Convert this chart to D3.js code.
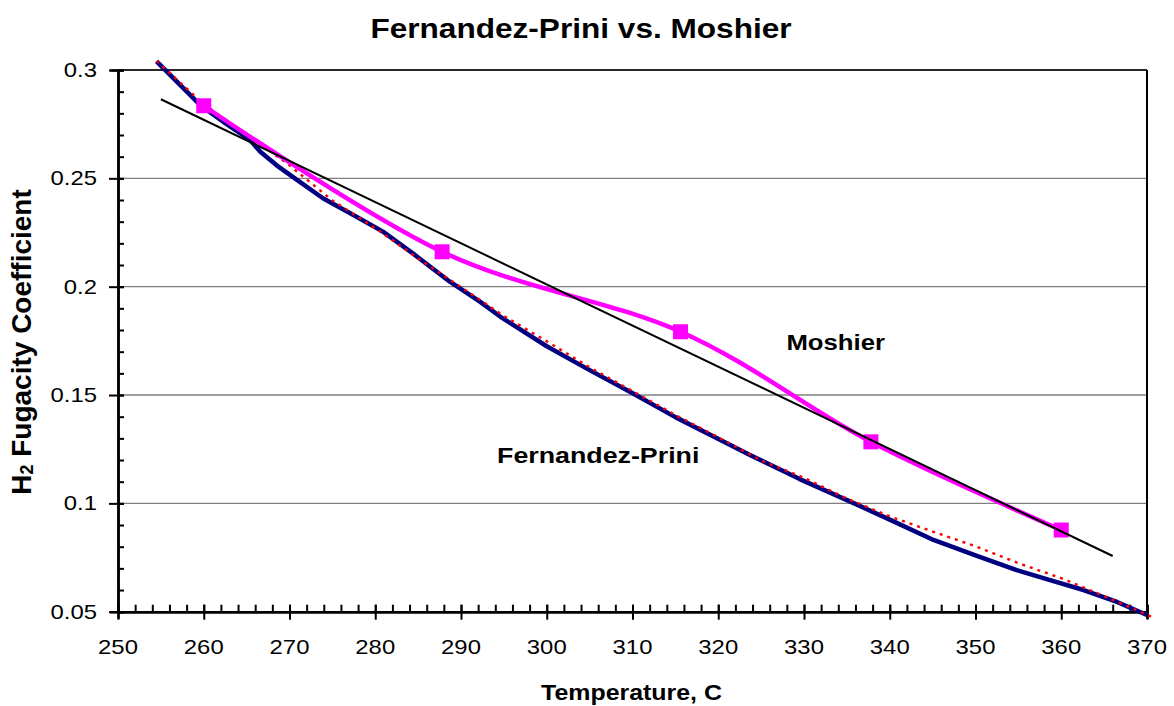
<!DOCTYPE html>
<html><head><meta charset="utf-8">
<script src="https://cdn.jsdelivr.net/npm/d3@7"></script>
<style>
body{margin:0;background:#fff}
svg{display:block}
text{font-family:"Liberation Sans",Arial,Helvetica,sans-serif;fill:#000}
</style>
</head><body>
<svg id="chart" width="1174" height="706"></svg>
<script>
// ---- data ----
const titleText = "Fernandez-Prini vs. Moshier";
const xLabel = "Temperature, C";
const xTickValues = [250, 260, 270, 280, 290, 300, 310, 320, 330, 340, 350, 360, 370];
const yTickValues = [0.05, 0.1, 0.15, 0.2, 0.25, 0.3];
const yTickLabels = ["0.05", "0.1", "0.15", "0.2", "0.25", "0.3"];

// Moshier points (500,550,600,640,680 F)
const moshierT = [260, 287.8, 315.6, 337.8, 360];
const moshierV = [0.2835, 0.2161, 0.1792, 0.1284, 0.0877];

// Linear trend of Moshier
const trendT = [255, 366];
const trendV = [0.2865, 0.0757];

// Fernandez-Prini (navy)
const fpT = [254.5, 259.6, 262.5, 265.4, 266.6, 268.5, 271.2, 273.9, 277.5, 280.9, 284.5, 288.7, 292.2, 294.6, 300, 305, 309.7, 315, 321.4, 323.7, 329.5, 335.4, 340, 345.1, 350, 354.8, 358.5, 362.6, 366.5, 370];
const fpV = [0.3040, 0.2838, 0.2755, 0.2677, 0.2623, 0.2560, 0.2484, 0.2408, 0.2330, 0.2254, 0.2150, 0.2023, 0.1931, 0.1861, 0.1725, 0.1615, 0.1515, 0.1398, 0.1269, 0.1223, 0.1112, 0.1008, 0.0925, 0.0831, 0.0760, 0.0692, 0.0648, 0.0600, 0.0545, 0.0485];

// red dotted fit
const fitT = [254.5, 260, 265, 270, 275, 280, 285, 290, 295, 300, 305, 310, 315, 320, 325, 330, 335, 340, 345, 350, 355, 360, 365, 371];
const fitV = [0.3042, 0.2842, 0.2702, 0.2560, 0.2398, 0.2270, 0.2130, 0.1998, 0.1865, 0.1748, 0.1628, 0.1518, 0.1408, 0.1305, 0.1198, 0.1118, 0.1022, 0.0940, 0.0870, 0.0802, 0.0724, 0.0655, 0.0572, 0.0468];

const seriesLabels = [
  {text: "Moshier", t: 333.7, v: 0.1742, size: 22},
  {text: "Fernandez-Prini", t: 306, v: 0.1223, size: 22.9}
];

// ---- drawing ----
const W = 1174, H = 706;
const plot = {left: 118, right: 1147, top: 70, bottom: 611.7};
const SX = 1.17; // horizontal stretch of the text in the reference

const svg = d3.select("#chart");
const x = d3.scaleLinear().domain([250, 370]).range([plot.left, plot.right]);
const y = d3.scaleLinear().domain([0.05, 0.3]).range([plot.bottom, plot.top]);

function stretchedText(g, tx, ty, str, size, weight, anchor) {
  return g.append("text")
    .attr("transform", `translate(${tx},${ty}) scale(${SX},1)`)
    .attr("text-anchor", anchor || "middle")
    .attr("dominant-baseline", "central")
    .style("font-size", size + "px")
    .style("font-weight", weight || "normal")
    .text(str);
}

// gridlines
svg.append("g").selectAll("line").data(yTickValues.filter(v => v > 0.05))
  .join("line")
  .attr("x1", plot.left).attr("x2", plot.right)
  .attr("y1", d => y(d)).attr("y2", d => y(d))
  .attr("stroke", "#808080").attr("stroke-width", 1.3);

// plot border (right + top)
svg.append("line").attr("x1", plot.right).attr("x2", plot.right)
  .attr("y1", plot.top).attr("y2", plot.bottom).attr("stroke", "#000").attr("stroke-width", 2);
svg.append("line").attr("x1", plot.left).attr("x2", plot.right)
  .attr("y1", plot.top).attr("y2", plot.top).attr("stroke", "#000").attr("stroke-width", 1.3);

// axes with D3 axis generators
const xMinor = d3.range(250, 370.01, 2);
const yMinor = d3.range(0.05, 0.3001, 0.01);

const xAxisMinor = d3.axisBottom(x).tickValues(xMinor).tickSize(-7).tickFormat("");
const gxm = svg.append("g").attr("transform", `translate(0,${plot.bottom})`).call(xAxisMinor);
const xAxis = d3.axisBottom(x).tickValues(xTickValues).tickSize(7).tickFormat("");
const gx = svg.append("g").attr("transform", `translate(0,${plot.bottom})`).call(xAxis);
gx.selectAll(".tick line").attr("y1", -7).attr("y2", 8);

const yAxisMinor = d3.axisLeft(y).tickValues(yMinor).tickSize(-6).tickFormat("");
const gym = svg.append("g").attr("transform", `translate(${plot.left},0)`).call(yAxisMinor);
const yAxis = d3.axisLeft(y).tickValues(yTickValues).tickSize(8).tickFormat("");
const gy = svg.append("g").attr("transform", `translate(${plot.left},0)`).call(yAxis);
gy.selectAll(".tick line").attr("x1", -9).attr("x2", 6);

[gxm, gx, gym, gy].forEach(g => {
  g.selectAll(".domain").attr("stroke", "#000").attr("stroke-width", 2.5);
  g.selectAll(".tick line").attr("stroke", "#000").attr("stroke-width", 2);
});

// tick labels
const tl = svg.append("g");
xTickValues.forEach(v => stretchedText(tl, x(v), 647, String(v), 20.4, "normal", "middle"));
yTickValues.forEach((v, i) => stretchedText(tl, 97, y(v), yTickLabels[i], 20.4, "normal", "end"));

// data lines
const plotG = svg.append("g");
const lineLin = d3.line().x(d => x(d[0])).y(d => y(d[1]));

plotG.append("path").datum(d3.zip(fpT, fpV))
  .attr("d", lineLin).attr("fill", "none")
  .attr("stroke", "#000080").attr("stroke-width", 4.5)
  .attr("stroke-linejoin", "round");

plotG.append("path").datum(d3.zip(fitT, fitV))
  .attr("d", lineLin).attr("fill", "none")
  .attr("stroke", "#ff0000").attr("stroke-width", 2.4)
  .attr("stroke-dasharray", "3,5");

const smooth = d3.line().x(d => x(d[0])).y(d => y(d[1])).curve(d3.curveCardinal.tension(0));
plotG.append("path").datum(d3.zip(moshierT, moshierV))
  .attr("d", smooth).attr("fill", "none")
  .attr("stroke", "#ff00ff").attr("stroke-width", 4.5);

const ms = 15;
plotG.selectAll("rect.m").data(d3.zip(moshierT, moshierV)).join("rect")
  .attr("class", "m")
  .attr("x", d => x(d[0]) - ms / 2).attr("y", d => y(d[1]) - ms / 2)
  .attr("width", ms).attr("height", ms).attr("fill", "#ff00ff");

plotG.append("path").datum(d3.zip(trendT, trendV))
  .attr("d", lineLin).attr("fill", "none")
  .attr("stroke", "#000").attr("stroke-width", 2);

// series labels
seriesLabels.forEach(s => stretchedText(svg, x(s.t), y(s.v), s.text, s.size, "bold", "middle"));

// title and axis titles
stretchedText(svg, 581, 28, titleText, 27, "bold", "middle");
stretchedText(svg, 631.5, 693, xLabel, 21.3, "bold", "middle");

const yl = svg.append("text")
  .attr("transform", `translate(21,342) rotate(-90)`)
  .attr("text-anchor", "middle")
  .attr("dominant-baseline", "central")
  .style("font-size", "28px").style("font-weight", "bold");
yl.append("tspan").text("H");
yl.append("tspan").attr("dy", 6).style("font-size", "18px").text("2");
yl.append("tspan").attr("dy", -6).text(" Fugacity Coefficient");
</script>
</body></html>
